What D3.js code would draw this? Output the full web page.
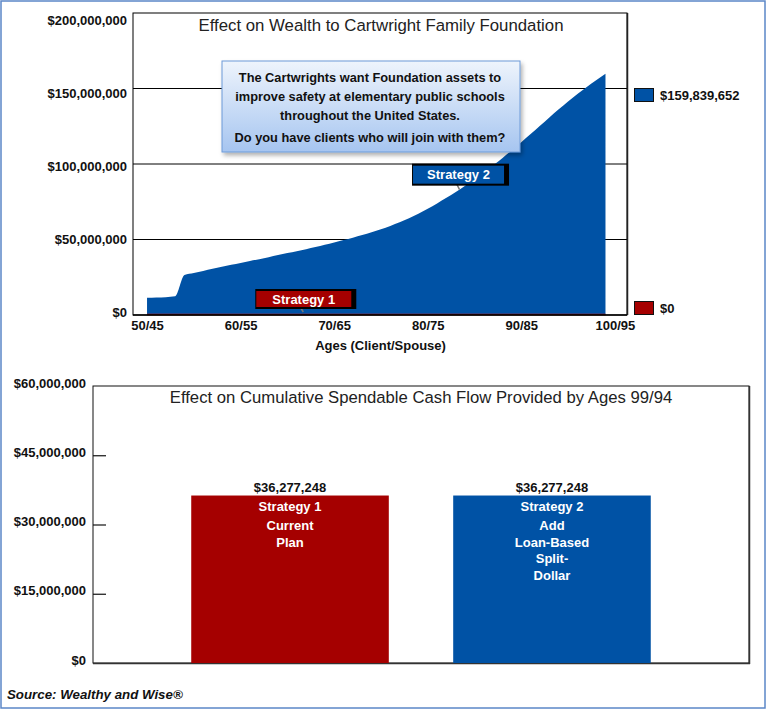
<!DOCTYPE html>
<html><head><meta charset="utf-8">
<script src="https://cdn.jsdelivr.net/npm/d3@7"></script>
<style>
html,body{margin:0;padding:0;background:#fff;}
svg{display:block;}
text{font-family:"Liberation Sans",Arial,sans-serif;}
</style></head>
<body>
<svg id="c" width="768" height="710"></svg>
<script>
// ---------- DATA ----------
const ages = [50,51,52,53,54,55,56,57,58,59,60,61,62,63,64,65,66,67,68,69,70,71,72,73,74,75,76,77,78,79,80,81,82,83,84,85,86,87,88,89,90,91,92,93,94,95,96,97,98,99];
const strategy2Wealth = [11.4e6,11.6e6,11.8e6,12.4e6,26.5e6,27.8e6,29.2e6,30.6e6,32.0e6,33.3e6,34.5e6,35.8e6,37.0e6,38.3e6,39.7e6,41.0e6,42.3e6,43.6e6,45.0e6,46.5e6,48.0e6,49.6e6,51.2e6,52.9e6,54.8e6,56.8e6,59.0e6,61.4e6,64.1e6,67.1e6,70.4e6,73.9e6,77.6e6,81.5e6,85.6e6,89.9e6,94.4e6,99.1e6,104.0e6,109.1e6,114.4e6,119.8e6,125.3e6,130.8e6,136.2e6,141.4e6,146.3e6,151.0e6,155.5e6,159839652];
const strategy1Wealth = [0,0,0,0,0,0,0,0,0,0,0,0,0,0,0,0,0,0,0,0,0,0,0,0,0,0,0,0,0,0,0,0,0,0,0,0,0,0,0,0,0,0,0,0,0,0,0,0,0,0];
const topYTicks = [0, 50e6, 100e6, 150e6, 200e6];
const xTickAges = [50, 60, 70, 80, 90, 100];
const xTickLabels = ["50/45", "60/55", "70/65", "80/75", "90/85", "100/95"];
const legendValues = [159839652, 0];
const legendNames = ["Strategy 2", "Strategy 1"];
const infoLines = ["The Cartwrights want Foundation assets to", "improve safety at elementary public schools", "throughout the United States.", "Do you have clients who will join with them?"];

const barCategories = ["Strategy 1", "Strategy 2"];
const barValues = [36277248, 36277248];
const barLabelLines = [["Strategy 1", "Current", "Plan"], ["Strategy 2", "Add", "Loan-Based", "Split-", "Dollar"]];
const bottomYTicks = [0, 15e6, 30e6, 45e6, 60e6];

const topTitle = "Effect on Wealth to Cartwright Family Foundation";
const bottomTitle = "Effect on Cumulative Spendable Cash Flow Provided by Ages 99/94";
const xAxisTitle = "Ages (Client/Spouse)";
const sourceText = "Source: Wealthy and Wise\u00AE";

// ---------- STYLE ----------
const BLUE = "#0052a5", RED = "#a50000";
const fmt = d3.format("$,.0f");
const svg = d3.select("#c");

// outer frame
svg.append("rect").attr("x", 1).attr("y", 1).attr("width", 764).attr("height", 707)
  .attr("fill", "#fff").attr("stroke", "#5b87c7").attr("stroke-width", 1.5);

const defs = svg.append("defs");
const g1 = defs.append("linearGradient").attr("id", "infoGrad").attr("x1", 0).attr("y1", 0).attr("x2", 0).attr("y2", 1);
g1.append("stop").attr("offset", "0%").attr("stop-color", "#eef4fc");
g1.append("stop").attr("offset", "100%").attr("stop-color", "#a6c5f0");
const f = defs.append("filter").attr("id", "shadow").attr("x", "-10%").attr("y", "-10%").attr("width", "130%").attr("height", "140%");
f.append("feDropShadow").attr("dx", 2).attr("dy", 3).attr("stdDeviation", 2).attr("flood-color", "#000").attr("flood-opacity", 0.3);

// ---------- TOP CHART ----------
const T = {l: 133, r: 627, t: 13, b: 315};
const xTop = d3.scaleLinear().domain([48.5, 101.3]).range([T.l, T.r]);
const yTop = d3.scaleLinear().domain([0, 200e6]).range([T.b, T.t]);
// label positions of the value axis (labels sit on a slightly compressed scale, as in the source)
const yTopLabel = d3.scaleLinear().domain([0, 200e6]).range([312.5, 20]);

const topG = svg.append("g");
// gridlines
topG.append("g").selectAll("line").data(topYTicks.filter(d => d > 0 && d < 200e6)).join("line")
  .attr("x1", T.l).attr("x2", T.r).attr("y1", d => yTop(d)).attr("y2", d => yTop(d))
  .attr("stroke", "#000").attr("stroke-width", 1);

// area strategy 2
const data2 = ages.map((a, i) => ({a, v: strategy2Wealth[i]}));
topG.append("path").datum(data2)
  .attr("d", d3.area().curve(d3.curveMonotoneX).x(d => xTop(d.a)).y0(yTop(0)).y1(d => yTop(d.v)))
  .attr("fill", BLUE);
// line strategy 1
const data1 = ages.map((a, i) => ({a, v: strategy1Wealth[i]}));
topG.append("path").datum(data1)
  .attr("d", d3.line().x(d => xTop(d.a)).y(d => yTop(d.v) - 0.5))
  .attr("fill", "none").attr("stroke", "#d01010").attr("stroke-width", 1.5);

// frame
topG.append("rect").attr("x", T.l).attr("y", T.t).attr("width", T.r - T.l).attr("height", T.b - T.t)
  .attr("fill", "none").attr("stroke", "#000").attr("stroke-width", 1);
topG.append("line").attr("x1", T.r + 0.5).attr("x2", T.r + 0.5).attr("y1", T.t).attr("y2", T.b)
  .attr("stroke", "#222").attr("stroke-width", 1.5);
topG.append("line").attr("x1", T.l).attr("x2", T.r).attr("y1", T.b).attr("y2", T.b)
  .attr("stroke", "#000").attr("stroke-width", 1.5);

// y axis
const yAxisTop = d3.axisLeft(yTopLabel).tickValues(topYTicks).tickFormat(fmt).tickSize(0).tickPadding(6);
topG.append("g").attr("transform", `translate(${T.l},0)`).call(yAxisTop)
  .call(g => g.select(".domain").remove())
  .call(g => g.selectAll("text").attr("font-size", 13).attr("font-weight", "bold").attr("fill", "#111")
    .attr("font-family", "Liberation Sans, Arial, sans-serif"));
// x axis
const xAxisTop = d3.axisBottom(xTop).tickValues(xTickAges).tickFormat((d, i) => xTickLabels[i]).tickSize(0).tickPadding(6);
topG.append("g").attr("transform", `translate(0,${T.b})`).call(xAxisTop)
  .call(g => g.select(".domain").remove())
  .call(g => g.selectAll("text").attr("font-size", 13).attr("font-weight", "bold").attr("fill", "#111")
    .attr("font-family", "Liberation Sans, Arial, sans-serif"));
topG.append("text").attr("x", 380.5).attr("y", 349.5).attr("text-anchor", "middle")
  .attr("font-size", 13).attr("font-weight", "bold").attr("fill", "#111").text(xAxisTitle);

// title
topG.append("text").attr("x", 381).attr("y", 31).attr("text-anchor", "middle")
  .attr("font-size", 16.8).attr("fill", "#222").text(topTitle);

// legend
const legY = [88, 301];
legendValues.forEach((v, i) => {
  topG.append("rect").attr("x", 634.5).attr("y", legY[i] + 0.5).attr("width", 19).attr("height", 13)
    .attr("fill", i === 0 ? BLUE : RED).attr("stroke", "#111").attr("stroke-width", 1);
  topG.append("text").attr("x", 660).attr("y", legY[i] + 11.5).attr("font-size", 13).attr("font-weight", "bold")
    .attr("fill", "#111").text(fmt(v));
});

// callouts
function callout(ax, ay, label, fill, w, h, dx, dy) {
  const bx = ax + dx - w / 2, by = ay - dy - h;
  const g = topG.append("g");
  g.append("line").attr("x1", ax).attr("y1", ay).attr("x2", ax - 3).attr("y2", by + h)
    .attr("stroke", "#777").attr("stroke-width", 1.5);
  g.append("rect").attr("x", bx - 1).attr("y", by - 2).attr("width", w + 6).attr("height", h + 4).attr("fill", "#000");
  g.append("rect").attr("x", bx).attr("y", by).attr("width", w).attr("height", h).attr("fill", fill);
  g.append("text").attr("x", bx + w / 2).attr("y", by + h / 2 + 4.7).attr("text-anchor", "middle")
    .attr("font-size", 13).attr("font-weight", "bold").attr("fill", "#fff").text(label);
}
callout(xTop(66.7), yTop(0) - 3, legendNames[1], RED, 95, 16, 0.5, 5);
const s2Age = 83.4, s2Val = 83e6;
callout(xTop(s2Age), yTop(s2Val), legendNames[0], BLUE, 91, 18, -1, 6);

// info box
const ib = {x: 222, y: 61, w: 298, h: 91};
topG.append("rect").attr("x", ib.x).attr("y", ib.y).attr("width", ib.w).attr("height", ib.h)
  .attr("fill", "url(#infoGrad)").attr("stroke", "#6d9ad8").attr("stroke-width", 1).attr("filter", "url(#shadow)");
const infoY = [82, 101, 120, 142];
infoLines.forEach((t, i) => {
  topG.append("text").attr("x", 370).attr("y", infoY[i]).attr("text-anchor", "middle")
    .attr("font-family", "Lato, 'Open Sans', sans-serif").attr("font-weight", "bold").attr("font-size", 12.8)
    .attr("fill", "#111").text(t);
});

// ---------- BOTTOM CHART ----------
const B = {l: 93, r: 749, t: 386, b: 663};
const xBot = d3.scaleBand().domain(barCategories).range([B.l, B.r]).paddingInner(0.2458).paddingOuter(0.375);
const yBot = d3.scaleLinear().domain([0, 60e6]).range([B.b, B.t]);
const bot = svg.append("g");

bot.append("rect").attr("x", B.l).attr("y", B.t).attr("width", B.r - B.l).attr("height", B.b - B.t)
  .attr("fill", "none").attr("stroke", "#111").attr("stroke-width", 1);
bot.append("line").attr("x1", B.r + 0.5).attr("x2", B.r + 0.5).attr("y1", B.t).attr("y2", B.b + 1)
  .attr("stroke", "#333").attr("stroke-width", 1.5);
bot.append("line").attr("x1", B.l).attr("x2", B.r + 1).attr("y1", B.b + 0.5).attr("y2", B.b + 0.5)
  .attr("stroke", "#333").attr("stroke-width", 1.5);

const yAxisBot = d3.axisLeft(yBot).tickValues(bottomYTicks).tickFormat(fmt).tickSize(0).tickPadding(7);
bot.append("g").attr("transform", `translate(${B.l},0)`).call(yAxisBot)
  .call(g => g.select(".domain").remove())
  .call(g => g.selectAll("text").attr("font-size", 13).attr("font-weight", "bold").attr("fill", "#111")
    .attr("font-family", "Liberation Sans, Arial, sans-serif").attr("dy", "0.08em"));
// inner tick marks
bot.append("g").selectAll("line").data(bottomYTicks.filter(d => d > 0 && d < 60e6)).join("line")
  .attr("x1", B.l).attr("x2", B.l + 13).attr("y1", d => yBot(d) + 0.5).attr("y2", d => yBot(d) + 0.5)
  .attr("stroke", "#111").attr("stroke-width", 1.2);

bot.selectAll("rect.bar").data(barCategories).join("rect").attr("class", "bar")
  .attr("x", d => xBot(d)).attr("width", xBot.bandwidth())
  .attr("y", (d, i) => yBot(barValues[i])).attr("height", (d, i) => yBot(0) - yBot(barValues[i]))
  .attr("fill", (d, i) => i === 0 ? RED : BLUE);

barCategories.forEach((c, i) => {
  const cx = xBot(c) + xBot.bandwidth() / 2;
  const top0 = yBot(barValues[i]);
  bot.append("text").attr("x", cx).attr("y", top0 - 4).attr("text-anchor", "middle")
    .attr("font-size", 13).attr("font-weight", "bold").attr("fill", "#111").text(fmt(barValues[i]));
  barLabelLines[i].forEach((t, j) => {
    const yy = top0 + 15 + (j === 0 ? 0 : 19.5 + (j - 1) * 16.7);
    bot.append("text").attr("x", cx).attr("y", yy).attr("text-anchor", "middle")
      .attr("font-size", 13).attr("font-weight", "bold").attr("fill", "#fff").text(t);
  });
});

bot.append("text").attr("x", 421).attr("y", 403).attr("text-anchor", "middle")
  .attr("font-size", 16.7).attr("fill", "#222").text(bottomTitle);

svg.append("text").attr("x", 7).attr("y", 699).attr("font-size", 13.3).attr("font-weight", "bold")
  .attr("font-style", "italic").attr("fill", "#111").text(sourceText);
</script>
</body></html>
